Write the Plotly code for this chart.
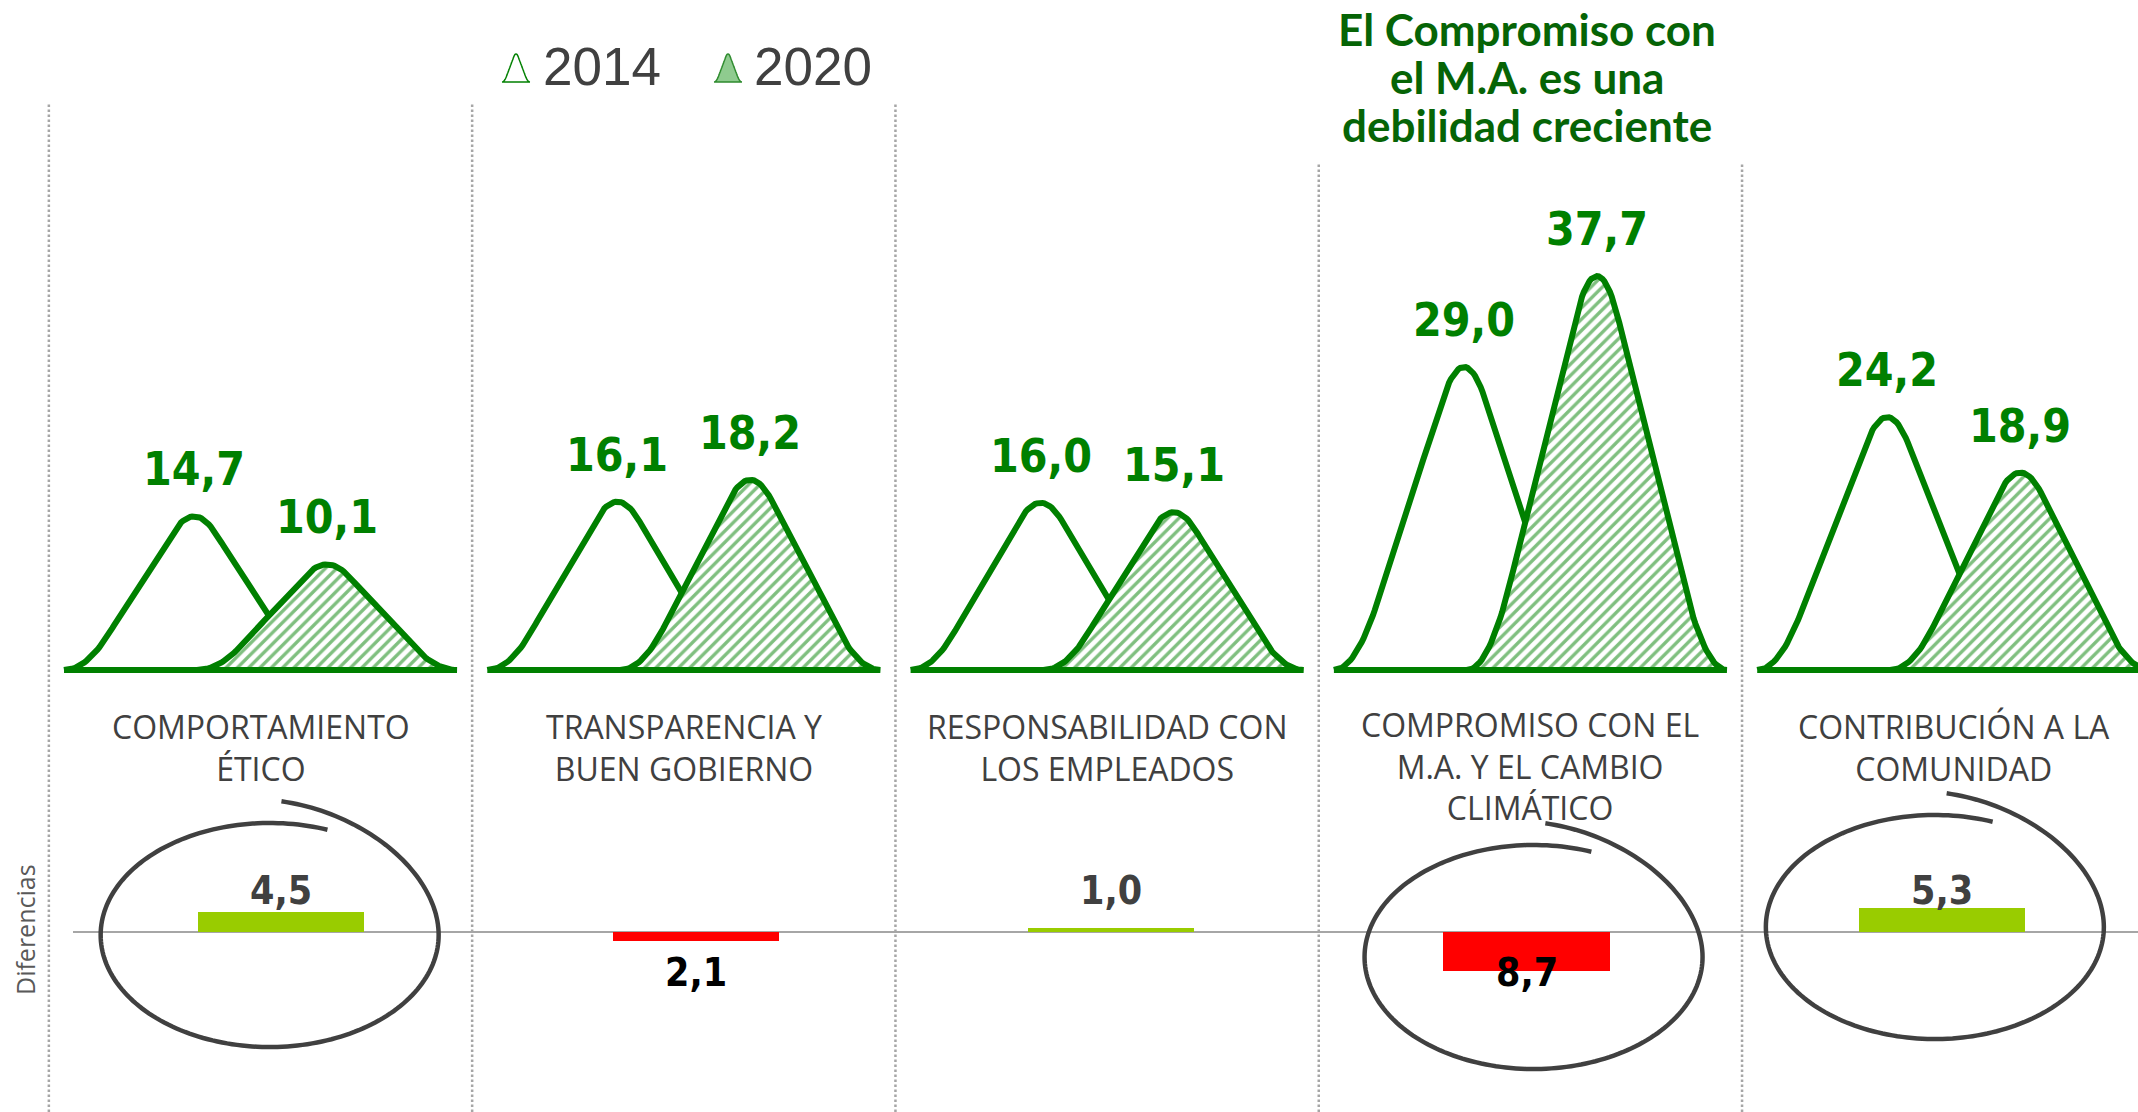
import numpy as np
import plotly.graph_objects as go

# ---------------- data ----------------
categories = [
    ["COMPORTAMIENTO", "ÉTICO"],
    ["TRANSPARENCIA Y", "BUEN GOBIERNO"],
    ["RESPONSABILIDAD CON", "LOS EMPLEADOS"],
    ["COMPROMISO CON EL", "M.A. Y EL CAMBIO", "CLIMÁTICO"],
    ["CONTRIBUCIÓN A LA", "COMUNIDAD"],
]
years = ["2014", "2020"]
values_2014 = [14.7, 16.1, 16.0, 29.0, 24.2]
values_2020 = [10.1, 18.2, 15.1, 37.7, 18.9]
differences = [4.5, -2.1, 1.0, -8.7, 5.3]
circled = [0, 3, 4]
title_lines = ["El Compromiso con", "el M.A. es una", "debilidad creciente"]
diff_axis_title = "Diferencias"

# ---------------- layout constants ----------------
W, H = 2138, 1112
GREEN = "#008000"
DARK = "#404040"
NARROW = "Liberation Sans Narrow, DejaVu Sans Condensed, Roboto Condensed, Arial Narrow, sans-serif"
SEGOE = "Open Sans, Noto Sans, sans-serif"

PANEL = 423.3      # px per category in mountain axis
C0 = 260.5         # px of first category center
BASE_PX = 670.0    # mountain baseline (px from top)
YS = 10.45         # px per unit (mountains)
SLOT = 415.3       # px per category in bar axis
BAR_X0 = 73.0      # px where bar axis starts
ZERO_PX = 932.0    # zero line for differences
YS2 = 4.47         # px per unit (bars)

OFF = 66.5 / PANEL   # peak offset from category center
HW = 130.0 / PANEL   # mountain half width


def px(x):
    return x / W


def py(y):
    return 1 - y / H


def profile(n=141, a=0.2):
    u = np.linspace(-1, 1, n) * (1 + a)

    def F(v):
        return np.where(v < -1, 0.0,
               np.where(v < 0, (v + 1) ** 2 / 2,
               np.where(v < 1, 1 - (1 - v) ** 2 / 2, 1.0)))
    s = (F(u + a) - F(u - a)) / (2 * a)
    s = s / s.max()
    return u / (1 + a), s


T, S = profile()


def fmt(v):
    return f"{abs(v):.1f}".replace(".", ",")


fig = go.Figure()

# ---------------- mountains ----------------
for i in range(len(categories)):
    for k, (vals, off) in enumerate([(values_2014, -OFF), (values_2020, OFF)]):
        v = vals[i]
        xs = list(i + off + T * HW) + [i + off - HW]
        ys = list(v * S) + [0.0]
        kw = dict(fillcolor="white")
        if k == 1:
            kw["fillpattern"] = dict(shape="/", fgcolor=GREEN, bgcolor="white",
                                     size=8, solidity=0.42)
        fig.add_trace(go.Scatter(
            x=xs, y=ys, mode="lines", fill="toself",
            line=dict(color=GREEN, width=6), hoverinfo="skip",
            showlegend=False, name=years[k], xaxis="x", yaxis="y", **kw))
        fig.add_annotation(
            x=i + off, y=v, xref="x", yref="y", yshift=47, text=fmt(v),
            showarrow=False, yanchor="middle", xanchor="center",
            font=dict(family=NARROW, size=46, color=GREEN, weight="bold"))

# ---------------- difference bars ----------------
bar_colors = ["#99CC00" if d >= 0 else "#FF0000" for d in differences]
fig.add_trace(go.Bar(
    x=list(range(len(differences))), y=differences, width=0.4,
    marker=dict(color=bar_colors, line=dict(width=0)),
    xaxis="x2", yaxis="y2", showlegend=False, hoverinfo="skip"))
for i, d in enumerate(differences):
    fig.add_annotation(
        x=i, y=0, xref="x2", yref="y2", yshift=42 if d >= 0 else -40,
        text=fmt(d), showarrow=False, yanchor="middle", xanchor="center",
        font=dict(family=NARROW, size=39, color=DARK if d >= 0 else "black",
                  weight="bold"))

# ---------------- category labels ----------------
for i, lines in enumerate(categories):
    fig.add_annotation(
        x=i, y=py(729 + 37 * (len(lines) - 1) / 2), xref="x", yref="paper",
        text="<br>".join(lines), showarrow=False, yanchor="middle",
        xanchor="center", align="center",
        font=dict(family=SEGOE, size=32, color=DARK))

# ---------------- dotted separators ----------------
for i in range(len(categories)):
    top = 103 if i < 3 else 163
    fig.add_shape(type="line", xref="x", yref="paper", x0=i - 0.5, x1=i - 0.5,
                  y0=0, y1=py(top),
                  line=dict(color="#A6A6A6", width=2.5, dash="2.5px,2.5px"))

# ---------------- hand drawn circles ----------------
circle_offsets = {0: (-11, 3), 3: (7, 25), 4: (-7, -5)}
theta = np.radians(np.linspace(70, 446, 220))
rx = np.full_like(theta, 169.0)
ry = np.where(theta <= 2 * np.pi, 112.0,
              112.0 + 22.0 * (theta - 2 * np.pi) / (theta[-1] - 2 * np.pi))
for i in circled:
    dx, dy = circle_offsets[i]
    cx = BAR_X0 + (i + 0.5) * SLOT + dx
    cy = ZERO_PX + dy
    xs = cx + rx * np.cos(theta)
    ys = cy - ry * np.sin(theta)
    path = "M " + " L ".join(f"{px(a):.5f},{py(b):.5f}" for a, b in zip(xs, ys))
    fig.add_shape(type="path", xref="paper", yref="paper", path=path,
                  line=dict(color=DARK, width=4.5))

# ---------------- title annotation ----------------
for j, line in enumerate(title_lines):
    fig.add_annotation(
        x=px(1527), y=py(29 + 48 * j), xref="paper", yref="paper", text=line,
        showarrow=False, yanchor="middle", xanchor="center",
        font=dict(family="Comic Sans MS, Lato, sans-serif", size=44,
                  color="#066406", weight="bold"))

# ---------------- custom legend ----------------
legend_items = [(516, "white", GREEN, 541), (728, "#8FCB8F", "#2E8B2E", 752)]
for (gx, fill, lc, tx), yr in zip(legend_items, years):
    xs = gx + T * 14
    ys = 82 - S * 28
    path = "M " + " L ".join(f"{px(a):.5f},{py(b):.5f}" for a, b in zip(xs, ys)) + " Z"
    fig.add_shape(type="path", xref="paper", yref="paper", path=path,
                  fillcolor=fill, line=dict(color=lc, width=1.5))
    fig.add_annotation(x=px(tx), y=py(66.5), xref="paper", yref="paper",
                       text=yr, showarrow=False, xanchor="left", yanchor="middle",
                       font=dict(family="Liberation Sans, Arial, sans-serif",
                                 size=53, color=DARK))

# ---------------- side label ----------------
fig.add_annotation(x=px(25), y=py(930), xref="paper", yref="paper",
                   text=diff_axis_title, textangle=-90, showarrow=False,
                   xanchor="center", yanchor="middle",
                   font=dict(family=SEGOE, size=25, color="#595959"))

# ---------------- axes ----------------
fig.update_layout(
    width=W, height=H, margin=dict(l=0, r=0, t=0, b=0, pad=0),
    paper_bgcolor="white", plot_bgcolor="rgba(0,0,0,0)",
    showlegend=False, bargap=0,
    xaxis=dict(domain=[0, 1], range=[-C0 / PANEL, (W - C0) / PANEL],
               visible=False, fixedrange=True),
    yaxis=dict(domain=[0, 1], range=[-(H - BASE_PX) / YS, BASE_PX / YS],
               visible=False, fixedrange=True),
    xaxis2=dict(domain=[BAR_X0 / W, 1], range=[-0.5, -0.5 + (W - BAR_X0) / SLOT],
                anchor="y2", visible=False, fixedrange=True),
    yaxis2=dict(domain=[0, 1], range=[-(H - ZERO_PX) / YS2, ZERO_PX / YS2],
                anchor="x2", showgrid=False, showticklabels=False, ticks="",
                showline=False, zeroline=True, zerolinecolor="#A6A6A6",
                zerolinewidth=2, fixedrange=True),
)

fig.write_html("out.html", config={"displayModeBar": False},
               post_script="document.body.style.margin='0';document.body.style.overflow='hidden';")
